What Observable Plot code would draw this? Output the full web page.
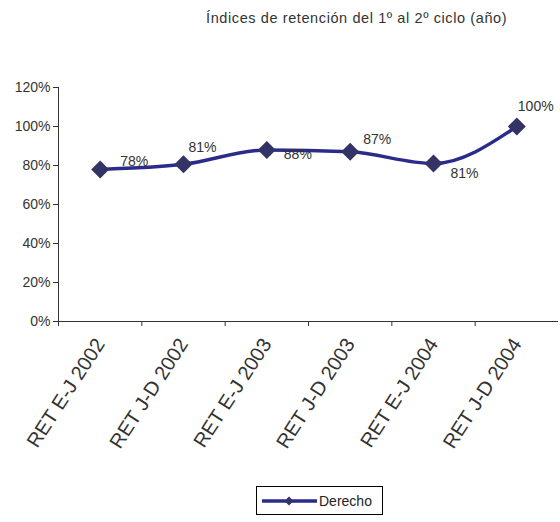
<!DOCTYPE html>
<html>
<head>
<meta charset="utf-8">
<script src="https://cdn.jsdelivr.net/npm/d3@7"></script>
<script src="https://cdn.jsdelivr.net/npm/@observablehq/plot@0.6"></script>
<style>
  body { margin: 0; background: #fff; font-family: "Liberation Sans", Arial, sans-serif; }
  #wrap { position: relative; width: 560px; height: 522px; }
  #title { position: absolute; left: 206px; top: 10px; font-size: 14.5px; color: #333; letter-spacing: 0.6px; white-space: nowrap; }
  #legend { position: absolute; left: 256px; top: 486px; width: 127px; height: 29px; border: 1px solid #000; box-sizing: border-box; display: flex; align-items: center; font-size: 14px; color: #222; }
  #legend svg { margin-left: 5px; margin-right: 2px; }
  svg text { font-family: "Liberation Sans", Arial, sans-serif; }
</style>
</head>
<body>
<div id="wrap">
  <div id="chart"></div>
  <div id="title">Índices de retención del 1º al 2º ciclo (año)</div>
  <div id="legend"><svg width="55" height="12"><line x1="0" y1="6" x2="55" y2="6" stroke="#2b2b8c" stroke-width="3.5"/><path d="M27,1.5 L31.5,6 L27,10.5 L22.5,6 Z" fill="#333366"/></svg><span>Derecho</span></div>
</div>
<script>
const categories = ["RET E-J 2002", "RET J-D 2002", "RET E-J 2003", "RET J-D 2003", "RET E-J 2004", "RET J-D 2004"];
const values = [0.78, 0.806, 0.88, 0.87, 0.81, 1.00];
const yTicks = [0, 0.2, 0.4, 0.6, 0.8, 1.0, 1.2];
const seriesName = "Derecho";

// label placement offsets (pixels), as in the original chart
const labelDx = [20, 5, 17, 13, 17, 1];
const labelDy = [-8, -17, 5, -12, 10, -20];

const rows = categories.map((c, i) => ({i, cat: c, v: values[i]}));
const pct = d3.format(".0%");

const labelMarks = rows.map((r, k) => Plot.text([r], {
  x: "i", y: "v", text: d => pct(d.v),
  dx: labelDx[k], dy: labelDy[k], textAnchor: "start",
  fontSize: 14, fill: "#333", style: "letter-spacing:0.6px"
}));

const chart = Plot.plot({
  width: 560, height: 522,
  marginTop: 87, marginBottom: 201, marginLeft: 58, marginRight: 2,
  x: {type: "linear", domain: [-0.5, categories.length - 0.5], axis: null},
  y: {domain: [0, 1.2], axis: null},
  style: {fontFamily: "Liberation Sans, Arial, sans-serif", color: "#333"},
  marks: [
    Plot.axisY({ticks: yTicks, tickFormat: pct, tickSize: 5, tickPadding: 3, fontSize: 14, stroke: "#333", fill: "#333", label: null}),
    Plot.axisX({ticks: d3.range(categories.length).map(i => i - 0.5), tickSize: 5, tickFormat: () => "", stroke: "#333", label: null}),
    Plot.axisX({ticks: d3.range(categories.length), tickFormat: i => categories[i], tickSize: 0, tickPadding: 19, tickRotate: -57, fontSize: 20, fill: "#333", dx: 0, label: null, style: "letter-spacing:1.9px"}),
    Plot.ruleY([0], {stroke: "#333"}),
    Plot.ruleX([-0.5], {y1: 0, y2: 1.2, stroke: "#333"}),
    Plot.line(rows, {x: "i", y: "v", stroke: "#2b2b8c", strokeWidth: 3.5, curve: "monotone-x"}),
    Plot.dot(rows, {x: "i", y: "v", symbol: "diamond2", r: 8.1, fill: "#333366", stroke: "none"}),
    ...labelMarks
  ]
});
document.getElementById("chart").appendChild(chart);
</script>
</body>
</html>
